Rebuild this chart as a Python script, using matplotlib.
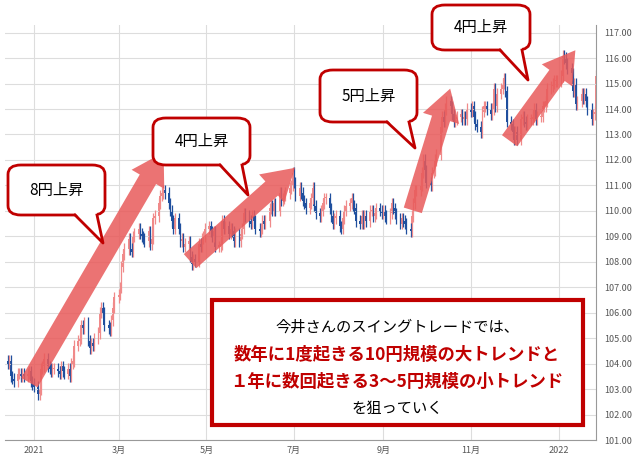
import matplotlib
matplotlib.use("Agg")
import matplotlib.pyplot as plt
import matplotlib.dates as mdates
from matplotlib.patches import FancyBboxPatch, Polygon, Rectangle
import pandas as pd
import numpy as np

plt.rcParams['font.family'] = ['Noto Sans CJK JP', 'DejaVu Sans']

closes = [
104.0,104.1,103.5,103.4,103.3,103.6,103.6,103.5,103.6,103.5,103.6,103.7,103.3,103.2,
103.1,102.8,103.0,103.8,103.9,104.2,103.9,103.8,103.7,103.8,103.8,103.7,103.6,103.9,103.7,103.6,103.8,103.5,104.0,104.1,104.7,
104.9,105.0,105.5,105.4,105.6,104.9,104.6,104.8,104.7,105.0,105.2,106.0,106.2,106.0,105.5,105.4,105.3,105.7,106.2,106.6,
106.7,107.0,107.8,108.3,108.5,108.9,108.5,108.4,109.0,109.1,109.3,109.1,109.0,108.9,108.8,109.2,108.7,108.9,109.7,109.8,110.3,110.6,110.7,
110.8,110.7,110.3,110.0,109.6,109.3,109.7,109.3,108.8,108.9,108.6,108.7,108.8,108.2,107.9,108.1,108.0,108.7,108.6,108.9,109.0,109.3,
109.4,109.2,109.0,109.2,108.6,108.6,108.7,109.6,109.3,109.4,109.1,109.3,109.2,108.8,109.1,108.8,109.1,109.3,109.9,109.8,109.6,
109.5,109.8,109.6,109.3,109.2,109.3,109.6,109.5,109.6,110.1,110.2,110.0,110.3,110.0,110.7,110.4,110.5,110.6,110.7,110.9,111.0,111.5,
111.1,110.6,110.9,110.7,110.4,110.3,110.1,110.3,110.5,110.9,110.2,109.9,109.8,110.0,110.3,110.5,110.5,110.1,109.8,109.5,109.7,109.8,
109.4,109.3,109.7,110.0,110.2,110.3,110.5,110.2,110.1,109.6,109.5,109.8,109.5,109.8,109.6,110.0,110.0,109.8,109.9,110.1,110.0,109.9,
110.0,109.8,109.7,109.9,110.3,110.1,109.9,109.7,109.5,109.7,109.6,109.5,109.3,109.2,109.8,110.3,110.8,110.8,111.0,111.5,112.0,111.6,
111.1,111.0,111.5,111.6,112.0,112.2,113.3,113.7,113.5,114.0,114.3,114.1,113.8,113.5,113.6,113.7,113.8,113.6,113.7,113.6,114.0,
113.9,114.1,113.7,113.4,113.3,113.1,113.9,114.1,114.1,114.0,113.8,114.0,114.8,114.1,114.6,114.8,115.0,115.2,114.7,113.5,113.4,113.1,
112.8,113.1,112.8,113.6,113.7,113.5,113.4,113.6,113.6,113.7,114.0,113.6,113.7,113.7,114.1,114.1,114.3,114.8,114.9,115.0,115.1,115.1,115.1,
115.3,116.1,116.0,115.8,115.6,115.4,114.7,115.0,114.2,114.3,114.6,114.4,114.6,114.3,114.0,113.6,113.8,113.9,115.3,
]
start_open = 104.1
wick = 0.22
yticks = [101,102,103,104,105,106,107,108,109,110,111,112,113,114,115,116,117]
xtick_dates = ["2021-01-01","2021-03-01","2021-05-01","2021-07-01","2021-09-01","2021-11-01","2022-01-01"]
xtick_labels = ["2021","3月","5月","7月","9月","11月","2022"]
callout_texts = ["8円上昇","4円上昇","5円上昇","4円上昇"]
msg_lines = ["今井さんのスイングトレードでは、","数年に1度起きる10円規模の大トレンドと","１年に数回起きる3〜5円規模の小トレンド","を狙っていく"]

dates = pd.bdate_range("2020-12-14", periods=len(closes))
opens = [start_open] + closes[:-1]
W, H = 643, 468
fig = plt.figure(figsize=(W/100, H/100), dpi=100)
ax = fig.add_axes([5/W, 28/H, 591/W, 415/H])
xn = mdates.date2num(dates)
for x, o, c in zip(xn, opens, closes):
    up = c >= o
    col = '#f08a8a' if up else '#1f4f9e'
    ax.vlines(x, min(o, c) - wick, max(o, c) + wick, color=col, lw=0.9)
    ax.add_patch(Rectangle((x - 0.6, min(o, c)), 1.2, max(abs(c - o), 0.04), color=col, lw=0))
ax.set_xlim(mdates.date2num(pd.Timestamp("2020-12-12")), mdates.date2num(pd.Timestamp("2022-01-27")))
ax.set_ylim(101, 117.3)
ax.set_yticks(yticks)
ax.set_yticklabels([f"{v:.2f}" for v in yticks])
ax.yaxis.tick_right()
ax.set_xticks(mdates.date2num(pd.to_datetime(xtick_dates)))
ax.set_xticklabels(xtick_labels)
ax.tick_params(labelsize=6.5, colors='#555555', length=0, pad=4)
ax.tick_params(axis='y', pad=6)
ax.grid(True, color='#dddddd', lw=0.8)
for s in ['top', 'left']:
    ax.spines[s].set_visible(False)
ax.spines['right'].set_color('#999999')
ax.spines['bottom'].set_color('#999999')

def fp(x, y):
    return (x / W, 1 - y / H)

arrows = [((28, 385), (165, 150)), ((188, 263), (297, 166)), ((412, 213), (451, 86)), ((508, 143), (577, 48))]
for t, h in arrows:
    fig.add_artist(matplotlib.patches.FancyArrowPatch(fp(*t), fp(*h), transform=fig.transFigure,
                   arrowstyle='simple,head_width=1.7,head_length=1.4,tail_width=0.85', mutation_scale=16,
                   color='#e85a5a', alpha=0.85, lw=0))

boxes = [(8, 165, 97, 50, (103, 243)), (153, 118, 97, 47, (248, 195)), (320, 70, 97, 52, (415, 148)), (432, 5, 98, 45, (528, 80))]
red = '#c00000'
for (bx, by, bw, bh, tip), txt in zip(boxes, callout_texts):
    x0, y0 = fp(bx, by + bh)
    fig.add_artist(FancyBboxPatch((x0, y0), bw / W, bh / H, boxstyle='round,pad=0,rounding_size=0.02',
                   transform=fig.transFigure, fc='white', ec=red, lw=2))
    b1 = (bx + bw - 30, by + bh); b2 = (bx + bw - 8, by + bh)
    fig.add_artist(Polygon([fp(b1[0], b1[1] - 2), fp(*tip), fp(b2[0], b2[1] - 2)], closed=True,
                   transform=fig.transFigure, fc='white', ec='none'))
    fig.add_artist(matplotlib.lines.Line2D([b1[0] / W, tip[0] / W, b2[0] / W],
                   [1 - b1[1] / H, 1 - tip[1] / H, 1 - b2[1] / H], transform=fig.transFigure, color=red, lw=2))
    cx, cy = fp(bx + bw / 2, by + bh / 2)
    fig.text(cx, cy, txt, ha='center', va='center', fontsize=11, color='black')

x0, y0 = fp(212, 425)
fig.add_artist(Rectangle((x0, y0), 371 / W, 125 / H, transform=fig.transFigure, fc='white', ec=red, lw=3))
ys = [327, 355, 382, 408]
for line, yy, i in zip(msg_lines, ys, range(4)):
    bold = i in (1, 2)
    fig.text(397 / W, 1 - yy / H, line, ha='center', va='center', fontsize=12.5 if bold else 11,
             color=red if bold else 'black', fontweight='bold' if bold else 'normal')

fig.savefig("out.png", dpi=100)
